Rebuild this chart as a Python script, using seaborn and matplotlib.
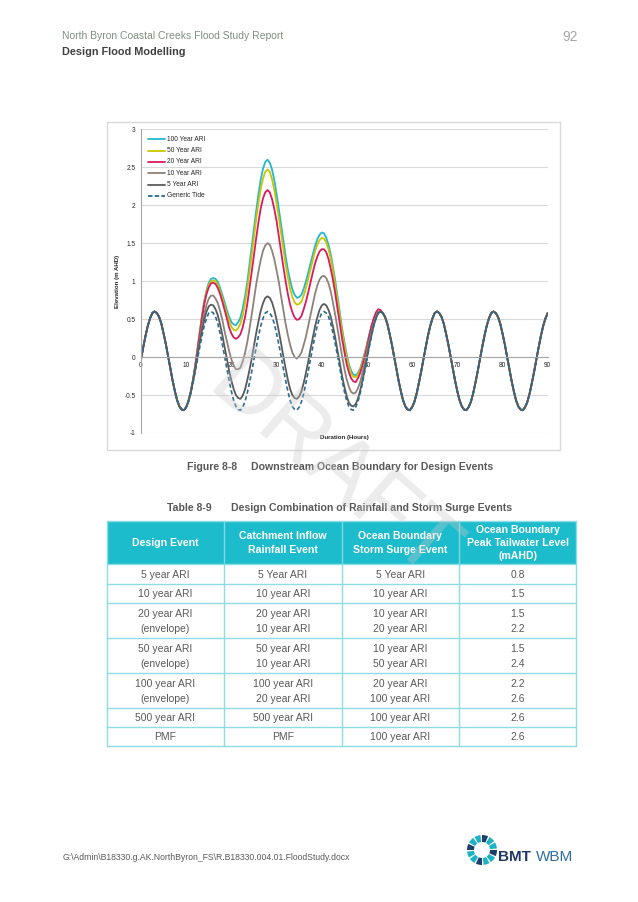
import numpy as np
import pandas as pd
import seaborn as sns
import matplotlib
matplotlib.use('Agg')
import matplotlib.pyplot as plt
from matplotlib.patches import Rectangle, Wedge

# ---------------------------------------------------------------- data
# half-hourly readings of the downstream boundary (m AHD), 0 - 90 hours
hours = np.arange(0, 90.5, 0.5)
tide = [
    -0.03, 0.13, 0.28, 0.41, 0.51, 0.58, 0.60, 0.58, 0.53, 0.44, 0.31, 0.17, 0.01,
    -0.15, -0.31, -0.45, -0.57, -0.65, -0.69, -0.70, -0.66, -0.59, -0.48, -0.34, -0.19,
    -0.03, 0.13, 0.28, 0.41, 0.51, 0.58, 0.60, 0.58, 0.53, 0.44, 0.31, 0.17, 0.01,
    -0.15, -0.31, -0.45, -0.57, -0.65, -0.69, -0.70, -0.66, -0.59, -0.48, -0.34, -0.19,
    -0.03, 0.13, 0.28, 0.41, 0.51, 0.58, 0.60, 0.58, 0.53, 0.44, 0.31, 0.17, 0.01,
    -0.15, -0.31, -0.45, -0.57, -0.65, -0.69, -0.70, -0.66, -0.59, -0.48, -0.34, -0.19,
    -0.03, 0.13, 0.28, 0.41, 0.51, 0.58, 0.60, 0.58, 0.53, 0.44, 0.31, 0.17, 0.01,
    -0.15, -0.31, -0.45, -0.57, -0.65, -0.69, -0.70, -0.66, -0.59, -0.48, -0.34, -0.19,
    -0.03, 0.13, 0.28, 0.41, 0.51, 0.58, 0.60, 0.58, 0.53, 0.44, 0.31, 0.17, 0.01,
    -0.15, -0.31, -0.45, -0.57, -0.65, -0.69, -0.70, -0.66, -0.59, -0.48, -0.34, -0.19,
    -0.03, 0.13, 0.28, 0.41, 0.51, 0.58, 0.60, 0.58, 0.53, 0.44, 0.31, 0.17, 0.01,
    -0.15, -0.31, -0.45, -0.57, -0.65, -0.69, -0.70, -0.66, -0.59, -0.48, -0.34, -0.19,
    -0.03, 0.13, 0.28, 0.41, 0.51, 0.58, 0.60, 0.58, 0.53, 0.44, 0.31, 0.17, 0.01,
    -0.15, -0.31, -0.45, -0.57, -0.65, -0.69, -0.70, -0.66, -0.59, -0.48, -0.34, -0.19,
    -0.03, 0.13, 0.28, 0.41, 0.51, 0.58,
]

# storm surge events, half-hourly from 10 to 53 hours (tide elsewhere)
event_start, event_end = 10.0, 53.0
ari_100 = [
    -0.66, -0.58, -0.46, -0.30, -0.11, 0.11, 0.33, 0.55, 0.74, 0.88,
    0.98, 1.03, 1.04, 1.03, 0.99, 0.91, 0.82, 0.72, 0.62, 0.53,
    0.46, 0.43, 0.42, 0.46, 0.52, 0.64, 0.79, 0.98, 1.21, 1.45,
    1.69, 1.93, 2.15, 2.34, 2.48, 2.57, 2.60, 2.56, 2.47, 2.33,
    2.15, 1.95, 1.74, 1.53, 1.33, 1.15, 1.01, 0.89, 0.82, 0.78,
    0.79, 0.82, 0.90, 1.00, 1.11, 1.23, 1.35, 1.46, 1.55, 1.61,
    1.64, 1.63, 1.57, 1.48, 1.35, 1.18, 1.00, 0.79, 0.59, 0.38,
    0.20, 0.04, -0.09, -0.18, -0.23, -0.24, -0.21, -0.15, -0.05, 0.05,
    0.17, 0.29, 0.40, 0.49, 0.56, 0.60, 0.60,
]
ari_50 = [
    -0.66, -0.58, -0.46, -0.30, -0.12, 0.10, 0.32, 0.54, 0.72, 0.86,
    0.95, 1.00, 1.01, 1.00, 0.95, 0.87, 0.78, 0.67, 0.57, 0.48,
    0.40, 0.36, 0.35, 0.38, 0.44, 0.55, 0.70, 0.89, 1.11, 1.34,
    1.58, 1.82, 2.03, 2.22, 2.35, 2.44, 2.47, 2.44, 2.34, 2.20,
    2.03, 1.83, 1.63, 1.42, 1.22, 1.05, 0.90, 0.79, 0.72, 0.69,
    0.70, 0.73, 0.81, 0.91, 1.03, 1.15, 1.27, 1.39, 1.48, 1.54,
    1.57, 1.56, 1.51, 1.42, 1.29, 1.13, 0.94, 0.74, 0.54, 0.34,
    0.16, 0.00, -0.12, -0.22, -0.26, -0.27, -0.23, -0.17, -0.07, 0.03,
    0.16, 0.28, 0.40, 0.49, 0.56, 0.59, 0.60,
]
ari_20 = [
    -0.66, -0.58, -0.46, -0.31, -0.12, 0.09, 0.31, 0.52, 0.70, 0.83,
    0.92, 0.97, 0.98, 0.96, 0.91, 0.83, 0.73, 0.62, 0.51, 0.39,
    0.31, 0.26, 0.24, 0.26, 0.30, 0.39, 0.52, 0.69, 0.90, 1.12,
    1.35, 1.57, 1.78, 1.96, 2.09, 2.17, 2.20, 2.17, 2.08, 1.95,
    1.79, 1.59, 1.39, 1.19, 1.00, 0.83, 0.69, 0.59, 0.52, 0.49,
    0.50, 0.54, 0.63, 0.73, 0.85, 0.98, 1.11, 1.23, 1.32, 1.39,
    1.42, 1.42, 1.38, 1.29, 1.16, 1.01, 0.83, 0.63, 0.44, 0.24,
    0.07, -0.09, -0.20, -0.28, -0.32, -0.33, -0.28, -0.21, -0.11, 0.00,
    0.13, 0.28, 0.41, 0.51, 0.59, 0.63, 0.62,
]
ari_10 = [
    -0.66, -0.58, -0.47, -0.32, -0.15, 0.04, 0.23, 0.42, 0.57, 0.69,
    0.77, 0.81, 0.81, 0.77, 0.71, 0.61, 0.49, 0.34, 0.21, 0.08,
    -0.03, -0.11, -0.16, -0.16, -0.14, -0.06, 0.05, 0.19, 0.37, 0.56,
    0.76, 0.96, 1.13, 1.28, 1.40, 1.47, 1.50, 1.48, 1.40, 1.29,
    1.14, 0.99, 0.80, 0.62, 0.44, 0.29, 0.16, 0.06, 0.00, -0.02,
    0.01, 0.06, 0.16, 0.27, 0.41, 0.55, 0.69, 0.83, 0.94, 1.02,
    1.06, 1.07, 1.04, 0.97, 0.86, 0.71, 0.55, 0.37, 0.19, 0.01,
    -0.15, -0.29, -0.39, -0.46, -0.48, -0.47, -0.41, -0.33, -0.21, -0.08,
    0.07, 0.21, 0.34, 0.45, 0.53, 0.58, 0.60,
]
ari_5 = [
    -0.66, -0.58, -0.47, -0.32, -0.16, 0.02, 0.19, 0.35, 0.49, 0.60,
    0.67, 0.69, 0.68, 0.63, 0.55, 0.43, 0.29, 0.13, -0.02, -0.18,
    -0.31, -0.42, -0.50, -0.54, -0.55, -0.51, -0.43, -0.31, -0.17, -0.02,
    0.15, 0.32, 0.47, 0.61, 0.71, 0.78, 0.80, 0.78, 0.72, 0.62,
    0.49, 0.34, 0.18, 0.01, -0.15, -0.30, -0.42, -0.50, -0.54, -0.55,
    -0.52, -0.45, -0.34, -0.21, -0.06, 0.10, 0.25, 0.40, 0.52, 0.62,
    0.68, 0.70, 0.68, 0.62, 0.53, 0.40, 0.25, 0.08, -0.08, -0.25,
    -0.39, -0.51, -0.60, -0.64, -0.65, -0.62, -0.55, -0.44, -0.31, -0.17,
    -0.01, 0.15, 0.29, 0.42, 0.51, 0.58, 0.60,
]

series_names = ['100 Year ARI', '50 Year ARI', '20 Year ARI', '10 Year ARI',
                '5 Year ARI']
series_values = [ari_100, ari_50, ari_20, ari_10, ari_5]
series_colors = ['#23B7CB', '#C9C500', '#D81B60', '#8E827A', '#5A5A5A']
tide_name = 'Generic Tide'
tide_color = '#2A6C90'

# table contents
table_header = ['Design Event', 'Catchment Inflow\nRainfall Event',
                'Ocean Boundary\nStorm Surge Event',
                'Ocean Boundary\nPeak Tailwater Level\n(mAHD)']
design_event = ['5 year ARI', '10 year ARI', '20 year ARI\n(envelope)',
                '50 year ARI\n(envelope)', '100 year ARI\n(envelope)',
                '500 year ARI', 'PMF']
rainfall_event = ['5 Year ARI', '10 year ARI', '20 year ARI\n10 year ARI',
                  '50 year ARI\n10 year ARI', '100 year ARI\n20 year ARI',
                  '500 year ARI', 'PMF']
surge_event = ['5 Year ARI', '10 year ARI', '10 year ARI\n20 year ARI',
               '10 year ARI\n50 year ARI', '20 year ARI\n100 year ARI',
               '100 year ARI', '100 year ARI']
tailwater = ['0.8', '1.5', '1.5\n2.2', '1.5\n2.4', '2.2\n2.6', '2.6', '2.6']

# ---------------------------------------------------------------- build table for seaborn
i0 = int(event_start * 2)
i1 = int(event_end * 2) + 1
frames = []
for name, vals in zip(series_names, series_values):
    full = tide[:i0] + vals + tide[i1:]
    frames.append(pd.DataFrame({'hours': hours, 'elevation': full,
                                'series': name}))
df = pd.concat(frames, ignore_index=True)
df_tide = pd.DataFrame({'hours': hours, 'elevation': tide})

# ---------------------------------------------------------------- figure
sns.set_theme(style='white')
plt.rcParams['font.family'] = ['Liberation Sans', 'DejaVu Sans']

W, H = 638, 902
fig = plt.figure(figsize=(W / 100, H / 100), dpi=100, facecolor='white')

# page canvas in pixel coordinates (y downwards)
page = fig.add_axes([0, 0, 1, 1])
page.set_xlim(0, W)
page.set_ylim(H, 0)
page.axis('off')

# header
page.text(62, 36, 'North Byron Coastal Creeks Flood Study Report', fontsize=7.5,
          color='#7E907F', va='center')
page.text(62, 52, 'Design Flood Modelling', fontsize=7.8, color='#404040',
          fontweight='bold', va='center')
page.text(578, 37, '92', fontsize=10, color='#A6A6A6', ha='right', va='center')

# chart frame
page.add_patch(Rectangle((106.5, 121.5), 453, 328, fill=False,
                         ec='#D9D9D9', lw=1.0))

# chart
left, right, top, bottom = 141, 547.7, 129.3, 433
ax = fig.add_axes([left / W, 1 - bottom / H, (right - left) / W, (bottom - top) / H])
ax.patch.set_alpha(0)

sns.lineplot(data=df, x='hours', y='elevation', hue='series',
             palette=dict(zip(series_names, series_colors)),
             hue_order=series_names, sort=False, estimator=None,
             linewidth=1.3, legend=False, ax=ax)
sns.lineplot(data=df_tide, x='hours', y='elevation', color=tide_color,
             linewidth=1.2, linestyle=(0, (2.5, 1.6)), sort=False,
             estimator=None, legend=False, ax=ax)

ax.set_xlim(0, 90)
ax.set_ylim(-1, 3)
ax.set_xticks(np.arange(0, 91, 10))
ax.set_yticks(np.arange(-1, 3.01, 0.5))
ax.set_yticklabels(['-1', '-0.5', '0', '0.5', '1', '1.5', '2', '2.5', '3'])
ax.set_xlabel('')
ax.set_ylabel('')
ax.grid(axis='y', color='#D9D9D9', lw=0.8)
ax.grid(axis='x', visible=False)
ax.set_axisbelow(True)
for s in ['top', 'right']:
    ax.spines[s].set_visible(False)
ax.spines['left'].set_color('#A6A6A6')
ax.spines['left'].set_linewidth(0.8)
ax.spines['bottom'].set_position(('data', 0))
ax.spines['bottom'].set_color('#A6A6A6')
ax.spines['bottom'].set_linewidth(0.8)
ax.tick_params(axis='both', labelsize=4.7, labelcolor='#262626', color='#A6A6A6',
               length=2.5, width=0.6, pad=1.5)
ax.tick_params(axis='x', direction='inout', length=4)

page.text(344.4, 438, 'Duration (Hours)', fontsize=4.4, fontweight='bold',
          color='#262626', ha='center', va='center')
page.text(118, 281, 'Elevation (m AHD)', fontsize=4.4, fontweight='bold',
          color='#262626', ha='center', va='center', rotation=90)

# legend
legend_names = series_names + [tide_name]
legend_colors = series_colors + [tide_color]
for i, (name, col) in enumerate(zip(legend_names, legend_colors)):
    ly = 139.3 + i * 11.33
    ls = (0, (2.5, 1.2)) if name == tide_name else '-'
    page.plot([148.3, 165], [ly, ly], color=col, lw=1.3, linestyle=ls)
    page.text(167.3, ly, name, fontsize=4.8, color='#262626', va='center')

# captions
page.text(186.7, 467.3, 'Figure 8-8', fontsize=7.6, fontweight='bold',
          color='#595959', va='center')
page.text(250.7, 467.3, 'Downstream Ocean Boundary for Design Events',
          fontsize=7.6, fontweight='bold', color='#595959', va='center')
page.text(166.7, 508.3, 'Table 8-9', fontsize=7.6, fontweight='bold',
          color='#595959', va='center')
page.text(230.7, 508.3, 'Design Combination of Rainfall and Storm Surge Events',
          fontsize=7.6, fontweight='bold', color='#595959', va='center')

# table
col_x = [106.7, 224, 341.7, 459.3, 576]
row_y = [520.7, 564.3, 584.3, 603.3, 638.3, 673.3, 708.3, 727.3, 746.3]
header_fill = '#1CBCCD'
line_col = '#8EDCE5'
page.add_patch(Rectangle((col_x[0], row_y[0]), col_x[-1] - col_x[0],
                         row_y[1] - row_y[0], fc=header_fill, ec='none'))
for j in range(4):
    cx = (col_x[j] + col_x[j + 1]) / 2
    cy = (row_y[0] + row_y[1]) / 2
    page.text(cx, cy + 0.5, table_header[j], fontsize=7.6, fontweight='bold',
              color='white', ha='center', va='center', linespacing=1.4)
columns = [design_event, rainfall_event, surge_event, tailwater]
for i in range(len(design_event)):
    for j in range(4):
        cx = (col_x[j] + col_x[j + 1]) / 2
        cy = (row_y[i + 1] + row_y[i + 2]) / 2
        page.text(cx, cy + 0.5, columns[j][i], fontsize=7.5, color='#595959',
                  ha='center', va='center', linespacing=1.65)
for y in row_y[1:]:
    page.plot([col_x[0], col_x[-1]], [y, y], color=line_col, lw=1.0)
for x in col_x:
    page.plot([x, x], [row_y[1], row_y[-1]], color=line_col, lw=1.0)
for x in col_x[1:-1]:
    page.plot([x, x], [row_y[0], row_y[1]], color='#7FD7E1', lw=1.0)
page.plot([col_x[0], col_x[-1]], [row_y[0], row_y[0]], color=line_col, lw=1.0)
page.plot([col_x[0], col_x[0]], [row_y[0], row_y[1]], color=line_col, lw=1.0)
page.plot([col_x[-1], col_x[-1]], [row_y[0], row_y[1]], color=line_col, lw=1.0)

# footer
page.text(63, 857, r'G:\Admin\B18330.g.AK.NorthByron_FS\R.B18330.004.01.FloodStudy.docx',
          fontsize=6.2, color='#595959', va='center')

# logo
lx, ly = 482, 850
for k in range(12):
    a0 = 90 + k * 30
    col = '#1DB3C4' if k % 3 else '#1F3F6F'
    page.add_patch(Wedge((lx, ly), 15, a0, a0 + 24, width=7, fc=col, ec='none'))
page.text(498, 857, 'BMT', fontsize=11, fontweight='bold', color='#1F3864',
          va='center')
page.text(536, 857, 'WBM', fontsize=11, color='#2E6FA3', va='center')

# watermark
wm = fig.add_axes([0, 0, 1, 1], zorder=5)
wm.set_xlim(0, W)
wm.set_ylim(H, 0)
wm.axis('off')
wm.patch.set_alpha(0)
wm.text(332, 470, 'DRAFT', fontsize=64, color='#C8C8C8', alpha=0.35,
        ha='center', va='center', rotation=-41)

fig.savefig('out.png', dpi=100, facecolor='white')
